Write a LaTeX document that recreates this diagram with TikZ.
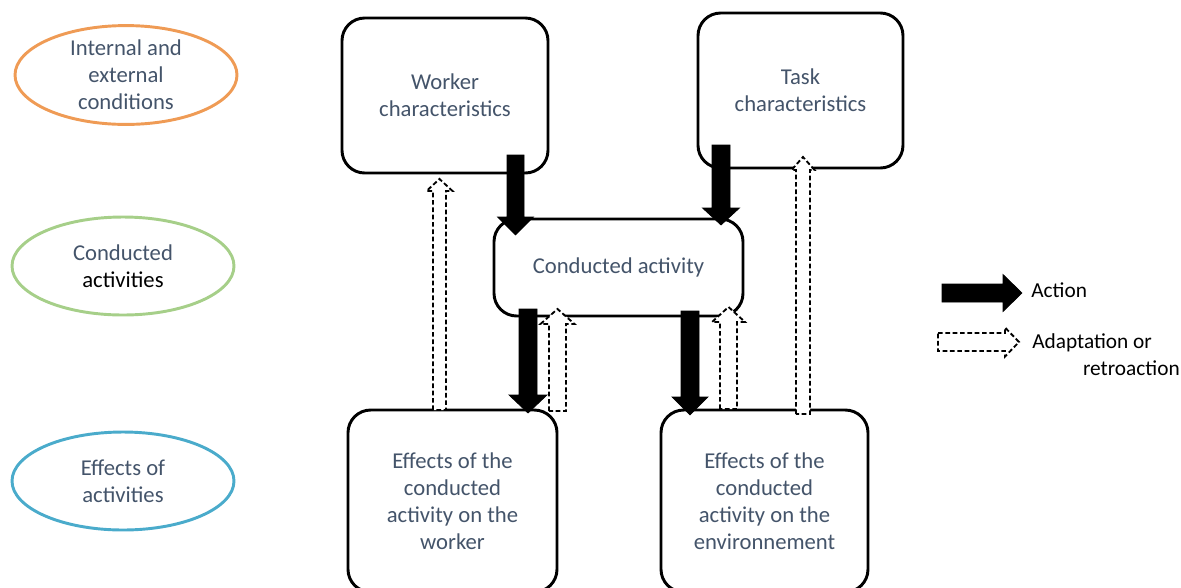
\documentclass[tikz,border=0pt]{standalone}
\usepackage{fontspec}
\setmainfont{Carlito}
\usetikzlibrary{shapes.geometric}
\definecolor{txt}{HTML}{44546A}
\definecolor{eorange}{HTML}{EF9B55}
\definecolor{egreen}{HTML}{A6CF89}
\definecolor{eblue}{HTML}{4AABCB}
% vertical block arrow: [style]{x}{ystart}{yheadbase}{ytip}{shaft half}{head half}
\newcommand\varrow[7][]{\draw[#1] ({#2-#6},#3) -- ({#2-#6},#4) -- ({#2-#7},#4) -- (#2,#5) -- ({#2+#7},#4) -- ({#2+#6},#4) -- ({#2+#6},#3) -- cycle;}
% horizontal block arrow: [style]{y}{xstart}{xheadbase}{xtip}{shaft half}{head half}
\newcommand\harrow[7][]{\draw[#1] (#3,{#2-#6}) -- (#4,{#2-#6}) -- (#4,{#2-#7}) -- (#5,#2) -- (#4,{#2+#7}) -- (#4,{#2+#6}) -- (#3,{#2+#6}) -- cycle;}
\tikzset{
  box/.style={draw=black, line width=2.2pt, rounded corners=17pt, fill=white,
    inner sep=0pt, align=center, text=txt, font=\fontsize{17}{20.25}\selectfont},
  oval/.style={ellipse, draw, line width=2.2pt, inner sep=0pt, align=center,
    text=txt, font=\fontsize{17}{20.25}\selectfont,
    minimum width=222*0.75pt, minimum height=98*0.75pt},
  act/.style={fill=black, draw=black, line width=0.5pt},
  adapt/.style={fill=white, draw=black, line width=1.4pt, dash pattern=on 3.5pt off 2pt},
  legtxt/.style={inner sep=0pt, font=\fontsize{16}{19}\selectfont, text=black}
}
\begin{document}
\begin{tikzpicture}[x=0.75pt, y=-0.75pt]
\useasboundingbox (0,0) rectangle (1181,587);
\clip (0,0) rectangle (1181,587);
% left ellipses
\node[oval, draw=eorange] (cond) at (126,75) {Internal and\\external\\conditions};
\node[oval, draw=egreen] (cact) at (123,266) {Conducted\\\textcolor{black}{activities}};
\node[oval, draw=eblue] (eff) at (123,481) {Effects of\\activities};
% boxes
\node[box, minimum width=206*0.75pt, minimum height=155*0.75pt] (worker) at (445,95.5) {Worker\\characteristics};
\node[box, minimum width=205*0.75pt, minimum height=155*0.75pt] (task) at (800.5,90.5) {Task\\characteristics};
\node[box, minimum width=249*0.75pt, minimum height=97*0.75pt] (act) at (618.5,267.5) {Conducted activity};
\node[box, minimum width=209*0.75pt, minimum height=182*0.75pt] (effw) at (452.5,501) {Effects of the\\conducted\\activity on the\\worker};
\node[box, minimum width=207*0.75pt, minimum height=182*0.75pt] (effe) at (764.5,501) {Effects of the\\conducted\\activity on the\\environnement};
% action arrows
\varrow[act]{515.5}{155}{217}{235}{8.5}{18}
\varrow[act]{721}{145}{208}{225}{9}{18.5}
\varrow[act]{528}{309}{395}{413}{9}{19}
\varrow[act]{690}{311}{397}{415}{9}{18}
% adaptation arrows
\varrow[adapt]{439.5}{410}{191}{179}{6.5}{13}
\varrow[adapt]{557.5}{411}{324}{309}{8.5}{17}
\varrow[adapt]{728.5}{409}{322}{307}{8.5}{16.5}
\varrow[adapt]{803}{414}{170}{157}{7}{11.5}
% legend
\harrow[act]{293}{942}{1003}{1022}{9}{18.5}
\harrow[adapt]{342}{938}{1005}{1019}{9}{14.5}
\node[legtxt, anchor=west] (lact) at (1031,290) {Action};
\node[legtxt, anchor=west] (lad1) at (1032,343) {Adaptation or};
\node[legtxt, anchor=east] (lad2) at (1180,368) {retroaction};
\end{tikzpicture}
\end{document}
